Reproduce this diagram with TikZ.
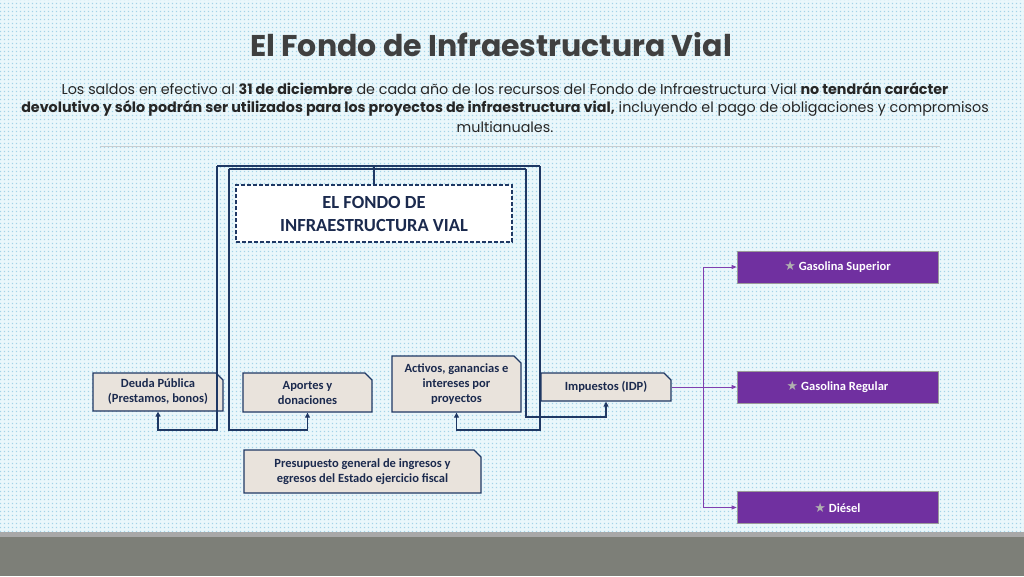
\documentclass[tikz,border=0pt]{standalone}
\usepackage{fontspec}
\setmainfont{Carlito}
\newfontfamily\gothic{Poppins}
\newfontfamily\symb{DejaVu Sans}
\usetikzlibrary{shapes.misc,arrows.meta,patterns.meta}
\definecolor{bgc}{HTML}{EAF7FB}
\definecolor{dotc}{HTML}{A3D3E8}
\definecolor{footlight}{HTML}{A8A8A8}
\definecolor{footdark}{HTML}{7D7F78}
\definecolor{titlec}{HTML}{404040}
\definecolor{navy}{HTML}{1F3864}
\definecolor{navytext}{HTML}{1B2A4E}
\definecolor{beige}{HTML}{E9E3DC}
\definecolor{purp}{HTML}{7030A0}
\definecolor{purpline}{HTML}{7F3FB0}
\definecolor{sepc}{HTML}{C8CDD0}
\definecolor{starc}{HTML}{B0B0B0}
\pgfdeclarepattern{
  name=bgdots, type=uncolored,
  bottom left={\pgfpoint{0pt}{0pt}},
  top right={\pgfpoint{4pt}{4pt}},
  tile size={\pgfpoint{4pt}{4pt}},
  code={\pgfpathrectangle{\pgfpoint{1pt}{1pt}}{\pgfpoint{1.6pt}{1.6pt}}\pgfusepath{fill}}
}
\tikzset{
  para/.style={font=\gothic\fontsize{14.3}{16}\selectfont, inner sep=0pt, text=black!85},
  srcbox/.style={chamfered rectangle, chamfered rectangle corners=north east,
    chamfered rectangle xsep=3.5pt, chamfered rectangle ysep=3.5pt,
    draw=navy, line width=1.3pt, fill=beige, align=center, inner sep=1pt,
    font=\bfseries\fontsize{12.5}{15}\selectfont, text=navytext},
  fundbox/.style={rectangle, draw=navy, line width=1.4pt, dash pattern=on 4pt off 2pt,
    fill=white, align=center, font=\bfseries\fontsize{18.5}{23}\selectfont, text=navytext,
    minimum width=276pt, minimum height=57pt},
  pbox/.style={rectangle, fill=purp, draw=gray!80, line width=0.8pt,
    minimum width=201pt, minimum height=32pt, text=white,
    font=\bfseries\fontsize{12.5}{14}\selectfont},
  conn/.style={draw=navy, line width=1.2pt},
  carrow/.style={conn, -{Triangle[length=5pt,width=5pt]}},
  pconn/.style={draw=purpline, line width=1pt, -{Triangle[length=5pt,width=4pt]}},
}
\newcommand{\starmark}{{\symb\color{starc}\fontsize{13}{14}\selectfont★}\ }
\begin{document}
\begin{tikzpicture}[x=1pt,y=-1pt]
\useasboundingbox (0,0) rectangle (1024,576);
\fill[bgc] (0,0) rectangle (1024,532);
\fill[pattern=bgdots, pattern color=dotc] (0,0) rectangle (1024,532);
\fill[footlight] (0,532) rectangle (1024,537);
\fill[footdark] (0,537) rectangle (1024,576);

\node[font=\gothic\bfseries\fontsize{30}{36}\selectfont, text=titlec, inner sep=0pt] (title) at (491,45) {El Fondo de Infraestructura Vial};

\node[para] (p1) at (505,89) {Los saldos en efectivo al \textbf{31 de diciembre} de cada año de los recursos del Fondo de Infraestructura Vial \textbf{no tendrán carácter}};
\node[para] (p2) at (505,108) {\textbf{devolutivo y sólo podrán ser utilizados para los proyectos de infraestructura vial,} incluyendo el pago de obligaciones y compromisos};
\node[para] (p3) at (505,127) {multianuales.};

\coordinate (sepL) at (100,146);
\coordinate (sepR) at (940,146);
\draw[sepc, line width=1pt] (sepL) -- (sepR);

% boxes
\node[fundbox] (fondo) at (374,213.5) {EL FONDO DE\\INFRAESTRUCTURA VIAL};
\node[srcbox, minimum width=130pt, minimum height=38pt] (deuda) at (158,392) {Deuda Pública\\(Prestamos, bonos)};
\node[srcbox, minimum width=129pt, minimum height=39pt] (aportes) at (307.5,392.5) {Aportes y\\donaciones};
\node[srcbox, minimum width=129pt, minimum height=56pt] (activos) at (456.5,384) {Activos, ganancias e\\intereses por\\proyectos};
\node[srcbox, minimum width=130pt, minimum height=28pt] (impuestos) at (606,387) {Impuestos (IDP)};
\node[srcbox, minimum width=237pt, minimum height=43pt] (presup) at (362.5,471.5) {Presupuesto general de ingresos y\\egresos del Estado ejercicio fiscal};

\node[pbox] (superior) at (837.5,267) {\starmark Gasolina Superior};
\node[pbox] (regular) at (837.5,387) {\starmark Gasolina Regular};
\node[pbox] (diesel) at (837.5,507.5) {\starmark Diésel};

% navy connectors
\coordinate (oL) at (217,166);
\coordinate (oR) at (540,166);
\coordinate (iL) at (229,169);
\coordinate (iR) at (526,169);
\coordinate (yb1) at (0,430);
\coordinate (yb2) at (0,417);
\draw[conn] (fondo.north) -- (fondo.north |- oL);
\draw[conn] (oL) -- (oR);
\draw[conn] (iL) -- (iR);
\draw[carrow] (oL) -- (oL |- yb1) -| (deuda.south);
\draw[carrow] (oR) -- (oR |- yb1) -| (activos.south);
\draw[carrow] (iL) -- (iL |- yb1) -| (aportes.south);
\draw[carrow] (iR) -- (iR |- yb2) -| (impuestos.south);

% purple connectors
\coordinate (split) at (703,387);
\draw[pconn] (impuestos.east) -- (regular.west);
\draw[pconn] (split) |- (superior.west);
\draw[pconn] (split) |- (diesel.west);
\end{tikzpicture}
\end{document}
